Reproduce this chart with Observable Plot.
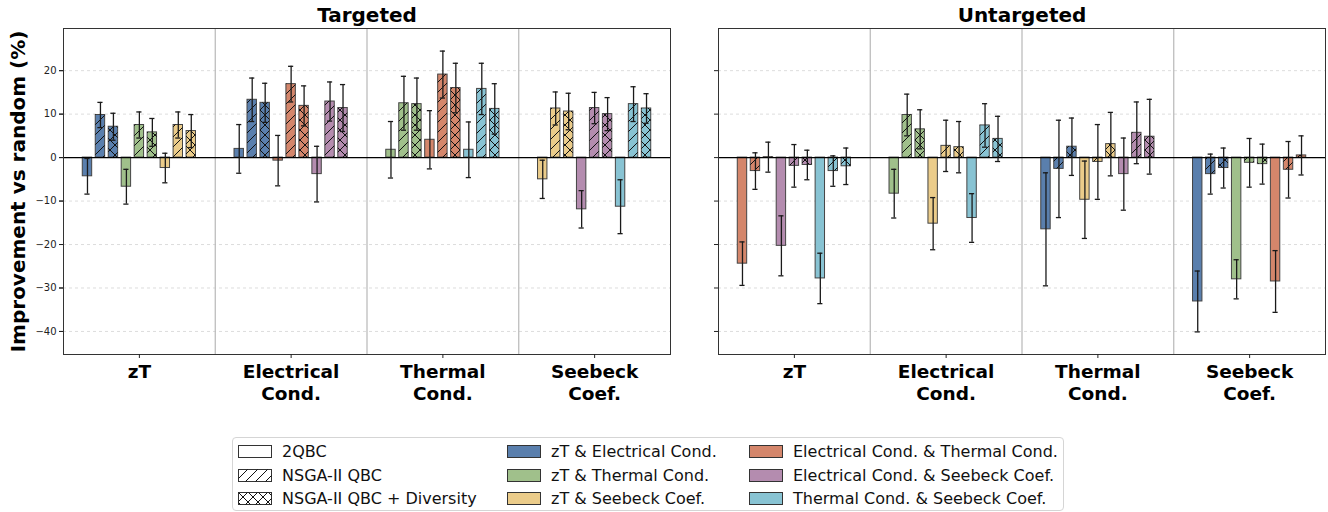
<!DOCTYPE html>
<html><head><meta charset="utf-8">
<script src="https://cdn.jsdelivr.net/npm/d3@7"></script>
<script src="https://cdn.jsdelivr.net/npm/@observablehq/plot@0.6"></script>
<style>
body{margin:0;background:#fff;font-family:"DejaVu Sans",sans-serif;}
#wrap{position:relative;width:1328px;height:512px;overflow:hidden;}
#legend{position:absolute;left:232px;top:437px;width:832px;height:74px;border:1px solid #d5d5d5;border-radius:4px;box-sizing:border-box;background:#fff;}
.item{position:absolute;height:18px;display:flex;align-items:center;font-size:16px;color:#111;white-space:nowrap;}
.item svg{margin-right:10px;flex:none;}
</style></head>
<body>
<svg width="0" height="0" style="position:absolute">
<defs>
<pattern id="hatchDiag" patternUnits="userSpaceOnUse" width="10" height="10">
<path d="M-1,1 l2,-2 M0,10 l10,-10 M9,11 l2,-2" stroke="#111" stroke-width="1"/>
</pattern>
<pattern id="hatchCross" patternUnits="userSpaceOnUse" width="10" height="10">
<path d="M-1,1 l2,-2 M0,10 l10,-10 M9,11 l2,-2 M-1,9 l2,2 M0,0 l10,10 M9,-1 l2,2" stroke="#111" stroke-width="1"/>
</pattern>
</defs>
</svg>
<div id="wrap"><div id="chart"></div><div id="legend"></div></div>
<script>
const panels = ["Targeted", "Untargeted"];
const groups = ["zT", "Electrical Cond.", "Thermal Cond.", "Seebeck Coef."];
const groupLabels = ["zT", "Electrical\nCond.", "Thermal\nCond.", "Seebeck\nCoef."];
const pairs = ["zT & Electrical Cond.", "zT & Thermal Cond.", "zT & Seebeck Coef.",
  "Electrical Cond. & Thermal Cond.", "Electrical Cond. & Seebeck Coef.", "Thermal Cond. & Seebeck Coef."];
const pairColors = ["#5a7fad", "#a0c08b", "#ebcc8a", "#d4866b", "#b48caf", "#88c3d3"];
const methods = ["2QBC", "NSGA-II QBC", "NSGA-II QBC + Diversity"];
const yTicks = [-40, -30, -20, -10, 0, 10, 20];
const yLabel = "Improvement vs random (%)";

// pair indices shown in each group (3 pairs x 3 methods = 9 bars)
const targetedPairs = [[0, 1, 2], [0, 3, 4], [1, 3, 5], [2, 4, 5]];
const untargetedPairs = [[3, 4, 5], [1, 2, 5], [0, 2, 4], [0, 1, 3]];

const targetedMean = [
  [-4.3, 9.8, 7.1, -6.7, 7.5, 5.8, -2.4, 7.5, 6.1],
  [2.0, 13.3, 12.6, -0.7, 16.9, 11.9, -3.8, 12.9, 11.4],
  [1.8, 12.5, 12.3, 4.1, 19.1, 16.0, 1.8, 15.8, 11.2],
  [-5.0, 11.3, 10.6, -11.9, 11.4, 10.0, -11.3, 12.3, 11.3]
];
const targetedErr = [
  [4.1, 2.9, 3.1, 4.0, 3.0, 3.2, 3.4, 3.0, 3.8],
  [5.6, 5.0, 4.5, 5.8, 4.1, 4.6, 6.4, 4.5, 5.4],
  [6.5, 6.2, 6.0, 6.7, 5.4, 5.7, 6.4, 5.9, 5.8],
  [4.4, 3.8, 4.2, 4.3, 3.6, 3.8, 6.2, 4.0, 3.4]
];
const untargetedMean = [
  [-24.4, -3.1, 0.1, -20.3, -1.9, -1.7, -27.8, -3.1, -2.0],
  [-8.3, 9.8, 6.5, -15.2, 2.7, 2.4, -13.9, 7.4, 4.3],
  [-16.5, -2.6, 2.5, -9.7, -1.0, 3.1, -3.8, 5.7, 4.8],
  [-33.1, -3.8, -2.4, -28.0, -1.2, -1.5, -28.5, -2.8, 0.5]
];
const untargetedErr = [
  [5.0, 4.2, 3.45, 6.9, 4.9, 3.4, 5.8, 3.5, 4.2],
  [5.6, 4.8, 4.5, 6.0, 5.9, 5.9, 5.6, 5.0, 5.2],
  [13.0, 11.2, 6.6, 8.9, 8.6, 7.3, 8.3, 7.1, 8.6],
  [7.0, 4.6, 4.6, 4.5, 5.6, 4.6, 7.1, 6.5, 4.5]
];

const rows = [];
panels.forEach((panel, p) => {
  const pairIdx = p === 0 ? targetedPairs : untargetedPairs;
  const means = p === 0 ? targetedMean : untargetedMean;
  const errs = p === 0 ? targetedErr : untargetedErr;
  groups.forEach((g, gi) => {
    for (let k = 0; k < 9; k++) {
      rows.push({panel, group: gi, slot: k, pair: pairs[pairIdx[gi][Math.floor(k / 3)]],
        method: methods[k % 3], value: means[gi][k], err: errs[gi][k]});
    }
  });
});

const STEP = 0.0855, BW = 0.062, CAP = 0.034;
const xc = d => d.group + (d.slot - 4) * STEP;
const barOpts = extra => Object.assign({fx: "panel", x1: d => xc(d) - BW / 2, x2: d => xc(d) + BW / 2, y1: 0, y2: "value"}, extra);

const chart = Plot.plot({
  width: 1328, height: 425,
  marginLeft: 63, marginRight: 3, marginTop: 28, marginBottom: 71,
  style: {fontFamily: "DejaVu Sans", fontSize: "10px", color: "#222", background: "white"},
  fx: {domain: panels, padding: 0.0733, axis: null},
  x: {domain: [-0.5, 3.5], axis: null},
  y: {domain: [-45.3, 29.7], axis: null},
  color: {domain: pairs, range: pairColors},
  marks: [
    Plot.gridY(yTicks, {stroke: "#cfcfcf", strokeOpacity: 0.7, strokeDasharray: "3,3"}),
    Plot.ruleX([0.5, 1.5, 2.5], {stroke: "#b8b8b8", strokeWidth: 1.2}),
    Plot.rect(rows, barOpts({fill: "pair", stroke: "#444", strokeWidth: 1})),
    Plot.rect(rows.filter(d => d.method === methods[1]), barOpts({fill: "url(#hatchDiag)"})),
    Plot.rect(rows.filter(d => d.method === methods[2]), barOpts({fill: "url(#hatchCross)"})),
    Plot.ruleY([0], {stroke: "#000", strokeWidth: 1.3}),
    Plot.ruleX(rows, {fx: "panel", x: xc, y1: d => d.value - d.err, y2: d => d.value + d.err, stroke: "#1a1a1a", strokeWidth: 1.3}),
    Plot.ruleY(rows, {fx: "panel", y: d => d.value - d.err, x1: d => xc(d) - CAP / 2, x2: d => xc(d) + CAP / 2, stroke: "#1a1a1a", strokeWidth: 1.3}),
    Plot.ruleY(rows, {fx: "panel", y: d => d.value + d.err, x1: d => xc(d) - CAP / 2, x2: d => xc(d) + CAP / 2, stroke: "#1a1a1a", strokeWidth: 1.3}),
    Plot.frame({stroke: "#333", strokeWidth: 1}),
    Plot.axisY({ticks: yTicks, tickSize: 4, tickPadding: 3, fontSize: 10, label: null}),
    Plot.axisY({ticks: yTicks, tickSize: 4, tickFormat: () => "", label: null, facetAnchor: null}),
    Plot.axisX({ticks: [0, 1, 2, 3], tickFormat: i => groupLabels[i], tickSize: 4, tickPadding: 4,
      fontSize: 18.5, fontWeight: "bold", lineHeight: 1.2, label: null, fill: "#000"}),
    Plot.text(panels, {fx: d => d, text: d => d, frameAnchor: "top", lineAnchor: "middle", textAnchor: "middle",
      dy: -13, fontSize: 20, fontWeight: "bold", fill: "#000"}),
    Plot.text([yLabel], {fx: () => panels[0], text: d => d, frameAnchor: "left", textAnchor: "middle", lineAnchor: "middle",
      rotate: -90, dx: -45, fontSize: 20, fontWeight: "bold", fill: "#000"})
  ]
});
document.getElementById("chart").appendChild(chart);

// legend
const legend = document.getElementById("legend");
const colX = [5, 274, 516];
const rowY = [13.5, 37.5, 60];
function addItem(col, row, text, fill, pattern) {
  const div = document.createElement("div");
  div.className = "item";
  div.style.left = colX[col] + "px";
  div.style.top = (rowY[row] - 9) + "px";
  let svg = `<svg width="34" height="13"><rect x="0.5" y="0.5" width="33" height="12" fill="${fill}" stroke="#333" stroke-width="1"/>`;
  if (pattern) svg += `<rect x="0.5" y="0.5" width="33" height="12" fill="url(#${pattern})" stroke="none"/>`;
  svg += `</svg>`;
  div.innerHTML = svg;
  const span = document.createElement("span");
  span.textContent = text;
  div.appendChild(span);
  legend.appendChild(div);
}
const methodPatterns = [null, "hatchDiag", "hatchCross"];
methods.forEach((m, i) => addItem(0, i, m, "#fff", methodPatterns[i]));
pairs.forEach((p, i) => addItem(1 + Math.floor(i / 3), i % 3, p, pairColors[i], null));
</script>
</body></html>
